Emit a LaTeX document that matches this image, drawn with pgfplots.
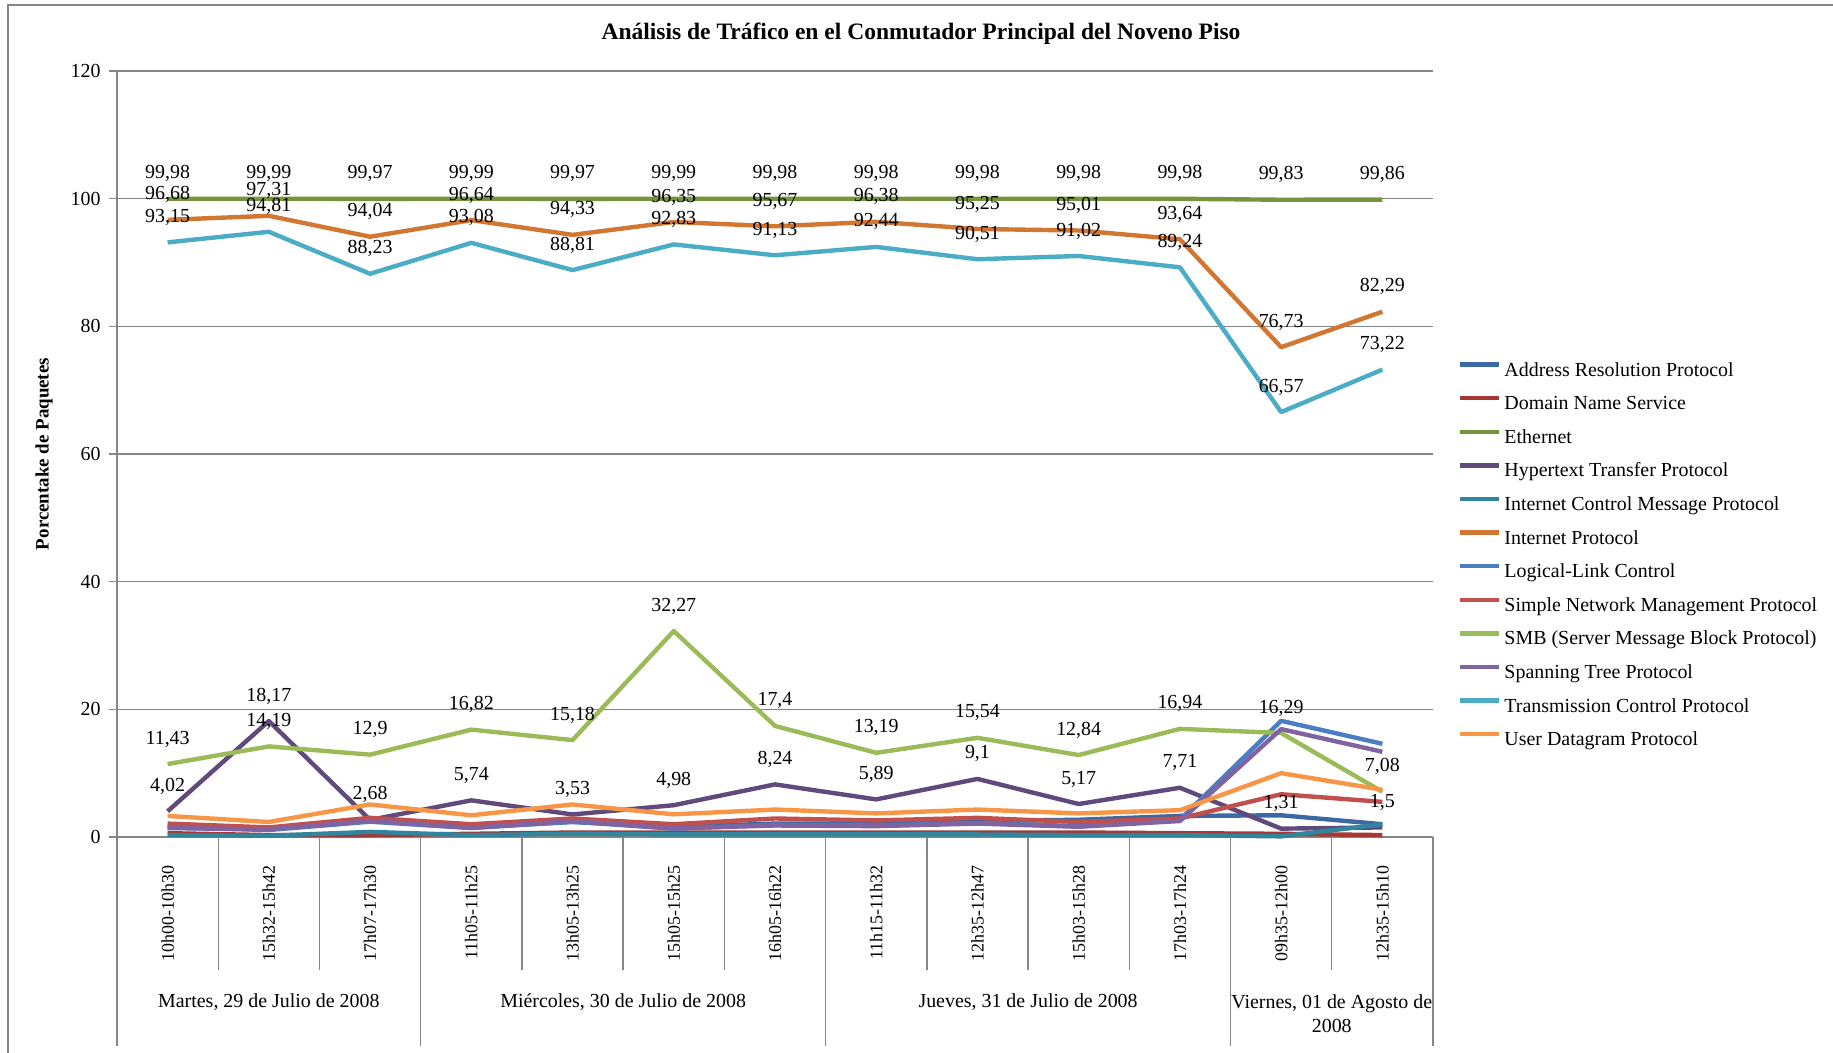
\documentclass[border=0pt]{standalone}
\usepackage{pgfplots}
\usepackage{pgfplotstable}
\pgfplotsset{compat=1.18}
\usepackage{fontspec}
\setmainfont{Liberation Serif}

\definecolor{cARP}{RGB}{60,104,163}
\definecolor{cDNS}{RGB}{165,55,52}
\definecolor{cETH}{RGB}{119,147,60}
\definecolor{cHTTP}{RGB}{96,74,123}
\definecolor{cICMP}{RGB}{49,133,156}
\definecolor{cIP}{RGB}{210,119,50}
\definecolor{cLLC}{RGB}{74,126,193}
\definecolor{cSNMP}{RGB}{192,80,77}
\definecolor{cSMB}{RGB}{155,187,89}
\definecolor{cSTP}{RGB}{128,100,162}
\definecolor{cTCP}{RGB}{75,172,198}
\definecolor{cUDP}{RGB}{247,150,70}
\definecolor{gridc}{RGB}{134,134,134}

\pgfplotstableread{
x  ARP  DNS  ETH    HTTP   ICMP IP     LLC   SNMP SMB    STP   TCP    UDP
1  1.6  0.6  99.98  4.02   0.3  96.68  1.5   2.1  11.43  1.4   93.15  3.3
2  1.2  0.3  99.99  18.17  0.2  97.31  1.1   1.5  14.19  1.2   94.81  2.35
3  2.6  0.3  99.97  2.68   0.8  94.04  2.4   3.0  12.9   2.5   88.23  5.1
4  1.5  0.5  99.99  5.74   0.3  96.64  1.4   2.0  16.82  1.45  93.08  3.4
5  2.35 0.7  99.97  3.53   0.5  94.33  2.4   2.9  15.18  2.5   88.81  5.1
6  1.6  0.7  99.99  4.98   0.4  96.35  1.3   2.0  32.27  1.35  92.83  3.55
7  2.1  0.7  99.98  8.24   0.4  95.67  1.9   2.9  17.4   1.8   91.13  4.3
8  2.1  0.7  99.98  5.89   0.4  96.38  1.8   2.6  13.19  1.7   92.44  3.7
9  2.5  0.7  99.98  9.1    0.4  95.25  2.2   3.0  15.54  2.1   90.51  4.3
10 2.7  0.7  99.98  5.17   0.3  95.01  1.7   2.35 12.84  1.6   91.02  3.7
11 3.3  0.6  99.98  7.71   0.3  93.64  2.7   2.9  16.94  2.5   89.24  4.2
12 3.4  0.5  99.83  1.31   0.1  76.73  18.2  6.7  16.29  16.9  66.57  10.0
13 2.0  0.3  99.86  1.5    2.0  82.29  14.6  5.5  7.08   13.35 73.22  7.4
}\data

\begin{document}
\begin{tikzpicture}
\useasboundingbox (0,0) rectangle (916.5bp,526.5bp);
\draw[gridc, line width=0.7bp] (4bp,0) -- (4bp,524bp) -- (916.5bp,524bp);
\begin{axis}[
  at={(58.5bp,108bp)}, anchor=south west,
  scale only axis, width=658bp, height=383bp,
  xmin=0.5, xmax=13.5, ymin=0, ymax=120,
  clip=false,
  axis lines*=left,
  axis line style={gridc, line width=0.7bp},
  ymajorgrids, grid style={gridc, line width=0.7bp},
  ytick={0,20,...,120},
  xtick={1,...,13},
  xticklabels={10h00-10h30,15h32-15h42,17h07-17h30,11h05-11h25,13h05-13h25,15h05-15h25,16h05-16h22,11h15-11h32,12h35-12h47,15h03-15h28,17h03-17h24,09h35-12h00,12h35-15h10},
  tick align=outside, major tick length=4bp,
  xtick style={draw=none},
  ytick style={gridc, line width=0.7bp},
  x tick label style={rotate=90, anchor=east, inner sep=0pt, font=\fontsize{9}{11}\selectfont},
  xticklabel shift=10bp,
  y tick label style={anchor=east, inner sep=0pt, font=\fontsize{10}{12}\selectfont},
  yticklabel shift=4bp,
  /pgf/number format/assume math mode=true,
  every axis plot/.append style={line width=2.2bp, mark=none, line join=round},
  lbl/.style={point meta=y, nodes near coords={\pgfmathprintnumber[use comma]{\pgfplotspointmeta}},
     every node near coord/.append style={anchor=center, yshift=12.5bp, text=black, inner sep=0pt, font=\fontsize{10}{12}\selectfont}},
  legend style={draw=none, fill=none, at={(axis description cs:1.0142,0.6257)}, anchor=north west,
     font=\fontsize{10}{12}\selectfont, row sep=7.8bp,
     nodes={inner sep=0pt, text height=7bp, text depth=2bp}},
  legend cell align=left,
  legend image code/.code={\draw[#1, line width=2.2bp] (0bp,3.2bp) -- (19.5bp,3.2bp); \path (21bp,0bp);},
]
\addplot[cARP] table[x=x,y=ARP]{\data}; \addlegendentry{Address Resolution Protocol}
\addplot[cDNS] table[x=x,y=DNS]{\data}; \addlegendentry{Domain Name Service}
\addplot[cETH, lbl] table[x=x,y=ETH]{\data}; \addlegendentry{Ethernet}
\addplot[cHTTP, lbl] table[x=x,y=HTTP]{\data}; \addlegendentry{Hypertext Transfer Protocol}
\addplot[cICMP] table[x=x,y=ICMP]{\data}; \addlegendentry{Internet Control Message Protocol}
\addplot[cIP, lbl] table[x=x,y=IP]{\data}; \addlegendentry{Internet Protocol}
\addplot[cLLC] table[x=x,y=LLC]{\data}; \addlegendentry{Logical-Link Control}
\addplot[cSNMP] table[x=x,y=SNMP]{\data}; \addlegendentry{Simple Network Management Protocol}
\addplot[cSMB, lbl] table[x=x,y=SMB]{\data}; \addlegendentry{SMB (Server Message Block Protocol)}
\addplot[cSTP] table[x=x,y=STP]{\data}; \addlegendentry{Spanning Tree Protocol}
\addplot[cTCP, lbl] table[x=x,y=TCP]{\data}; \addlegendentry{Transmission Control Protocol}
\addplot[cUDP] table[x=x,y=UDP]{\data}; \addlegendentry{User Datagram Protocol}

\pgfplotsinvokeforeach{1.5,2.5,4.5,5.5,6.5,8.5,9.5,10.5,12.5}{
  \draw[gridc, line width=0.7bp] (axis cs:#1,0) -- ++(0pt,-66.5bp);
}
\pgfplotsinvokeforeach{0.5,3.5,7.5,11.5,13.5}{
  \draw[gridc, line width=0.7bp] (axis cs:#1,0) -- ++(0pt,-104.5bp);
}
\node[font=\fontsize{10}{12}\selectfont] at (axis cs:2,0) [yshift=-82.5bp] {Martes, 29 de Julio de 2008};
\node[font=\fontsize{10}{12}\selectfont] at (axis cs:5.5,0) [yshift=-82.5bp] {Miércoles, 30 de Julio de 2008};
\node[font=\fontsize{10}{12}\selectfont] at (axis cs:9.5,0) [yshift=-82.5bp] {Jueves, 31 de Julio de 2008};
\node[font=\fontsize{10}{12}\selectfont, align=center] at (axis cs:12.5,0) [yshift=-88.5bp] {Viernes, 01 de Agosto de\\2008};
\end{axis}
\node[font=\bfseries\fontsize{11.8}{14}\selectfont] at (460.5bp,509.5bp) {Análisis de Tráfico en el Conmutador Principal del Noveno Piso};
\node[rotate=90, font=\bfseries\fontsize{9.5}{11}\selectfont] at (22bp,299.5bp) {Porcentake de Paquetes};
\end{tikzpicture}
\end{document}
